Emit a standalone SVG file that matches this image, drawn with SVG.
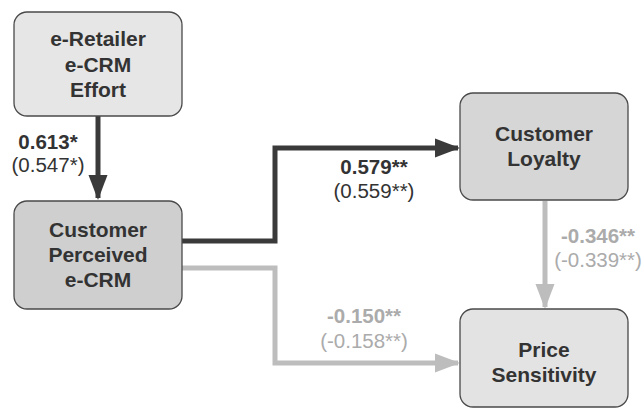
<svg xmlns="http://www.w3.org/2000/svg" width="644" height="410" viewBox="0 0 644 410">
<defs>
<style>
.box{stroke:#4a4a4a;stroke-width:1.3}
.nt{font-family:"Liberation Sans",Arial,sans-serif;font-weight:bold;font-size:21px;fill:#333;text-anchor:middle}
.lb{font-family:"Liberation Sans",Arial,sans-serif;font-size:20.5px;text-anchor:middle}
.b{font-weight:bold}
.dk{fill:#333}
.lt{fill:#ababab}
.cd{fill:none;stroke:#3a3a3a;stroke-width:5}
.cl{fill:none;stroke:#bdbdbd;stroke-width:5}
</style>
<marker id="ad" markerWidth="5" markerHeight="4" refX="4.6" refY="2" orient="auto" markerUnits="strokeWidth" viewBox="0 0 5 4"><path d="M0,0.1 L5,2 L0,3.9 Z" fill="#3a3a3a"/></marker>
<marker id="al" markerWidth="5" markerHeight="4" refX="4.6" refY="2" orient="auto" markerUnits="strokeWidth" viewBox="0 0 5 4"><path d="M0,0.1 L5,2 L0,3.9 Z" fill="#bdbdbd"/></marker>
</defs>
<rect width="644" height="410" fill="#fff"/>
<g id="connectors">
<path class="cd" d="M98,116 V198" marker-end="url(#ad)"/>
<path class="cd" d="M182,241 H275 V148 H458" marker-end="url(#ad)"/>
<path class="cl" d="M182,268 H275 V363 H458" marker-end="url(#al)"/>
<path class="cl" d="M545,201 V307" marker-end="url(#al)"/>
</g>
<g id="node-effort">
<rect class="box" x="14" y="12" width="168" height="104" rx="13" fill="#e6e6e6"/>
<text class="nt" x="98" y="46">e-Retailer</text>
<text class="nt" x="98" y="72">e-CRM</text>
<text class="nt" x="98" y="97">Effort</text>
</g>
<g id="node-perceived">
<rect class="box" x="14" y="201" width="168" height="108" rx="13" fill="#cfcfcf"/>
<text class="nt" x="98" y="237">Customer</text>
<text class="nt" x="98" y="262">Perceived</text>
<text class="nt" x="98" y="287">e-CRM</text>
</g>
<g id="node-loyalty">
<rect class="box" x="460" y="93" width="168" height="107" rx="13" fill="#d6d6d6"/>
<text class="nt" x="544" y="141">Customer</text>
<text class="nt" x="544" y="166">Loyalty</text>
</g>
<g id="node-price">
<rect class="box" x="460" y="309" width="168" height="98" rx="13" fill="#e3e3e3"/>
<text class="nt" x="544" y="357">Price</text>
<text class="nt" x="544" y="382">Sensitivity</text>
</g>
<g id="labels">
<text class="lb b dk" x="48" y="149">0.613*</text>
<text class="lb dk" x="48" y="172">(0.547*)</text>
<text class="lb b dk" x="374" y="174">0.579**</text>
<text class="lb dk" x="374" y="198">(0.559**)</text>
<text class="lb b lt" x="598" y="243">-0.346**</text>
<text class="lb lt" x="598" y="267">(-0.339**)</text>
<text class="lb b lt" x="364" y="323">-0.150**</text>
<text class="lb lt" x="364" y="348">(-0.158**)</text>
</g>
</svg>
